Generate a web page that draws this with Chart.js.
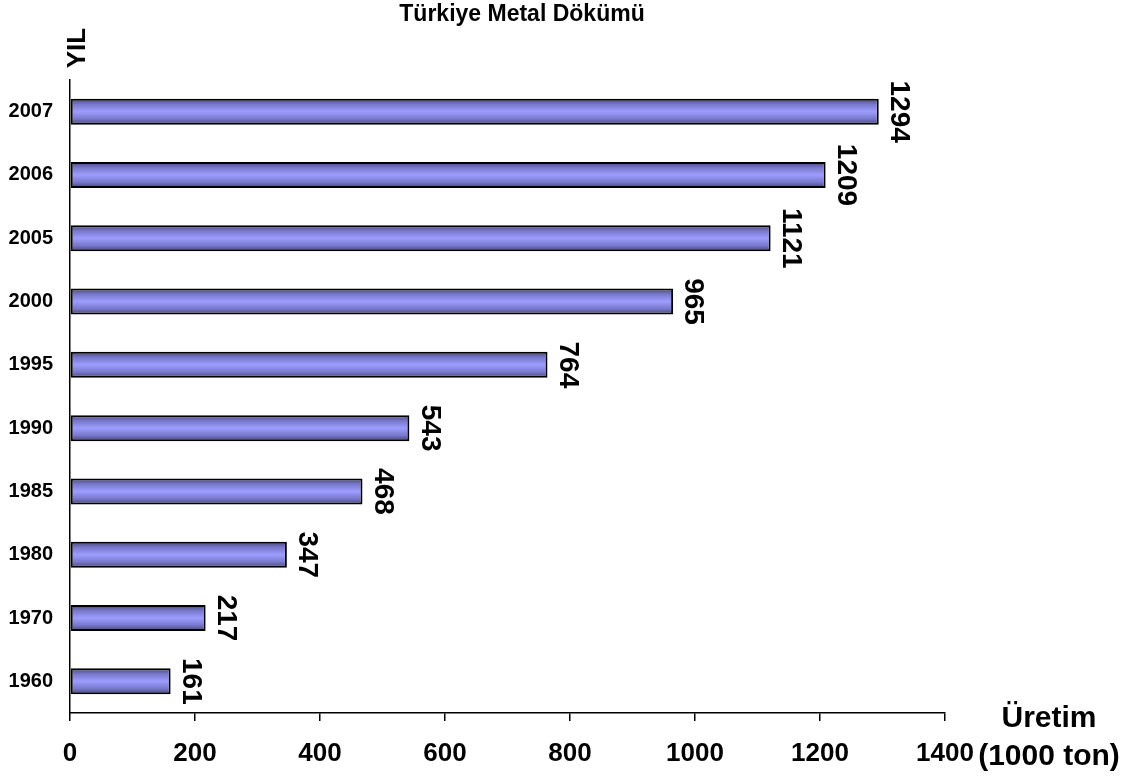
<!DOCTYPE html>
<html>
<head>
<meta charset="utf-8">
<script src="https://cdn.jsdelivr.net/npm/chart.js@4.4.1/dist/chart.umd.min.js"></script>
<style>
  html, body { margin: 0; padding: 0; background: #ffffff; }
  #wrap { width: 1140px; height: 779px; }
</style>
</head>
<body>
<div id="wrap"><canvas id="c" width="1140" height="779"></canvas></div>
<script>
// Foundry output by year (thousand tonnes)
const years = ['2007', '2006', '2005', '2000', '1995', '1990', '1985', '1980', '1970', '1960'];
const production = [1294, 1209, 1121, 965, 764, 543, 468, 347, 217, 161];
const xTicks = [0, 200, 400, 600, 800, 1000, 1200, 1400];

const chartTitle = 'Türkiye Metal Dökümü';
const yAxisTitle = 'YIL';
const xAxisTitle = ['Üretim', '(1000 ton)'];

const FONT = '"Liberation Sans", Arial, Helvetica, sans-serif';
const BAR_PCT = 0.41;

// Tube-like fill: darker at the top and bottom edges, light in the middle
function barFill(ctx) {
  const chart = ctx.chart;
  const y = chart.scales && chart.scales.y;
  if (!y || ctx.dataIndex === undefined || !isFinite(y.top)) return '#9999ff';
  const cy = y.getPixelForValue(ctx.dataIndex);
  const half = ((y.bottom - y.top) / years.length) * BAR_PCT / 2;
  const g = chart.ctx.createLinearGradient(0, cy - half, 0, cy + half);
  g.addColorStop(0, '#464678');
  g.addColorStop(0.22, '#7878cc');
  g.addColorStop(0.5, '#9d9dff');
  g.addColorStop(0.78, '#7878cc');
  g.addColorStop(1, '#424274');
  return g;
}

// Title, axis captions and rotated value labels
const annotations = {
  id: 'annotations',
  afterDraw(chart) {
    const ctx = chart.ctx;
    ctx.save();
    ctx.fillStyle = '#000000';

    ctx.font = 'bold 23px ' + FONT;
    ctx.textAlign = 'center';
    ctx.textBaseline = 'alphabetic';
    ctx.fillText(chartTitle, 522, 21);

    // Y axis caption, reading upwards
    ctx.save();
    ctx.translate(78, 48);
    ctx.rotate(-Math.PI / 2);
    ctx.font = 'bold 26px ' + FONT;
    ctx.textAlign = 'center';
    ctx.textBaseline = 'middle';
    ctx.fillText(yAxisTitle, 0, 0);
    ctx.restore();

    // X axis caption, two lines
    ctx.font = 'bold 30px ' + FONT;
    ctx.textAlign = 'center';
    ctx.textBaseline = 'alphabetic';
    ctx.fillText(xAxisTitle[0], 1049, 727);
    ctx.fillText(xAxisTitle[1], 1049, 765);

    // Value labels, rotated to read downwards beside each bar end
    const meta = chart.getDatasetMeta(0);
    ctx.font = 'bold 28px ' + FONT;
    ctx.textAlign = 'center';
    ctx.textBaseline = 'middle';
    meta.data.forEach((el, i) => {
      ctx.save();
      ctx.translate(el.x + 20, el.y);
      ctx.rotate(Math.PI / 2);
      ctx.fillText(String(production[i]), 0, 0);
      ctx.restore();
    });
    ctx.restore();
  }
};

new Chart(document.getElementById('c'), {
  type: 'bar',
  data: {
    labels: years,
    datasets: [{
      data: production,
      backgroundColor: barFill,
      borderColor: '#000000',
      borderWidth: 2,
      borderSkipped: false,
      categoryPercentage: 1,
      barPercentage: BAR_PCT
    }]
  },
  options: {
    indexAxis: 'y',
    responsive: false,
    animation: false,
    layout: { padding: { top: 80, right: 195, left: 0, bottom: 0 } },
    plugins: {
      legend: { display: false },
      title: { display: false },
      tooltip: { enabled: false }
    },
    scales: {
      x: {
        type: 'linear',
        min: 0,
        max: 1400,
        afterBuildTicks(scale) { scale.ticks = xTicks.map(v => ({ value: v })); },
        afterFit(scale) { scale.height = 66; },
        grid: { drawOnChartArea: false, drawTicks: true, tickLength: 8, color: '#000000', lineWidth: 1.5 },
        border: { display: true, color: '#000000', width: 1.5 },
        ticks: {
          color: '#000000',
          font: { family: FONT, size: 26, weight: 'bold' },
          padding: 17,
          maxRotation: 0,
          autoSkip: false,
          callback: (v) => String(v)
        }
      },
      y: {
        type: 'category',
        afterFit(scale) { scale.width = 70; },
        grid: { display: true, drawOnChartArea: false, drawTicks: false },
        border: { display: true, color: '#000000', width: 1.5 },
        ticks: {
          color: '#000000',
          font: { family: FONT, size: 20, weight: 'bold' },
          padding: 17,
          autoSkip: false
        }
      }
    }
  },
  plugins: [annotations]
});
</script>
</body>
</html>
